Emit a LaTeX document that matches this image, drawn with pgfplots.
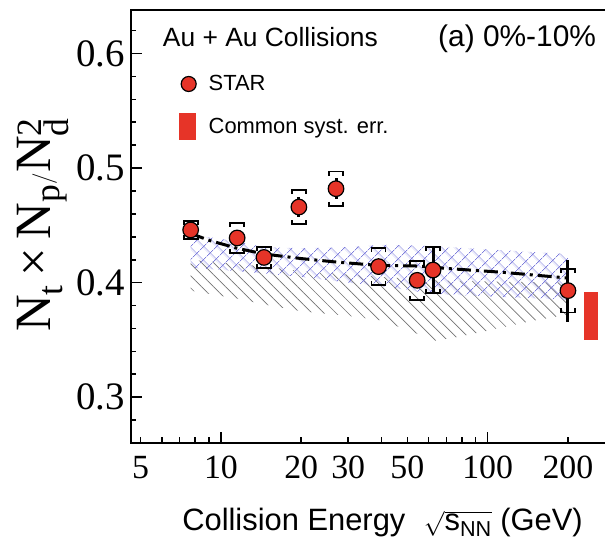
\documentclass[border=0pt]{standalone}
\usepackage{fontspec}
\setmainfont{Liberation Sans}
\newfontfamily\serif{Liberation Serif}
\setmathrm{Liberation Serif}
\usepackage{pgfplots}
\pgfplotsset{compat=1.18}
\usepackage{pgfplotstable}
\usetikzlibrary{patterns.meta}

\definecolor{starred}{RGB}{230,52,40}
\definecolor{hatchblue}{RGB}{125,125,220}
\definecolor{hatchgrey}{RGB}{115,115,115}

% bracket cap for systematic uncertainties (legs point back to the data point)
\pgfdeclareplotmark{sysbracket}{%
  \pgfpathmoveto{\pgfqpoint{-4bp}{-7bp}}%
  \pgfpathlineto{\pgfqpoint{0bp}{-7bp}}%
  \pgfpathlineto{\pgfqpoint{0bp}{7bp}}%
  \pgfpathlineto{\pgfqpoint{-4bp}{7bp}}%
  \pgfpathmoveto{\pgfqpoint{4bp}{0bp}}%
}

% STAR 0-10% central Au+Au: value, statistical and systematic errors
\pgfplotstableread{
x     y      stat   sys
7.7   0.446  0.004  0.008
11.5  0.439  0.006  0.013
14.5  0.422  0.004  0.009
19.6  0.466  0.009  0.015
27    0.482  0.009  0.015
39    0.414  0.006  0.016
54.4  0.402  0.004  0.017
62.4  0.411  0.019  0.020
200   0.393  0.027  0.019
}\stardata

\begin{document}
\begin{tikzpicture}
\begin{axis}[
  scale only axis, width=480bp, height=433bp,
  xmode=log, xmin=4.6, xmax=290, ymin=0.26, ymax=0.638,
  axis line style={line width=2bp},
  tick align=inside, xtick pos=bottom, ytick pos=left,
  tick style={line width=1.6bp, black},
  major tick length=11bp, minor tick length=5.5bp,
  xtick={10,100}, xticklabels={10,100},
  extra x ticks={5,20,30,50,200}, extra x tick labels={5,20,30,50,200},
  extra x tick style={major tick length=5.5bp},
  minor xtick={6,7,8,9,40,60,70,80,90},
  ytick={0.3,0.4,0.5,0.6},
  minor ytick={0.28,0.32,0.34,0.36,0.38,0.42,0.44,0.46,0.48,0.52,0.54,0.56,0.58,0.62},
  /pgf/number format/assume math mode=true,
  xticklabel style={font=\serif\fontsize{34}{34}\selectfont, inner sep=0pt, yshift=-13bp},
  yticklabel style={font=\serif\fontsize{39}{39}\selectfont, inner sep=0pt, xshift=-6bp},
  ylabel={$\mathrm{N_{t}\mbox{\serif\,×\,}N_{p}/N_{d}^{2}}$},
  ylabel style={at={(axis description cs:-0.183,0.5035)}, anchor=center, font=\fontsize{51}{55}\selectfont, inner sep=0pt},
  xlabel={Collision Energy\hspace{0.6em}$\sqrt{\mbox{s\textsubscript{NN}}}$ (GeV)},
  xlabel style={at={(axis description cs:0.524,0)}, anchor=base, yshift=-87bp, font=\fontsize{31}{34}\selectfont, inner sep=0pt},
  legend style={draw=none, fill=none, at={(axis description cs:0.1006,0.8499)}, anchor=north west,
    font=\fontsize{22}{26}\selectfont, row sep=21bp, column sep=11.9bp, inner sep=0pt,
    cells={anchor=base west}, nodes={inner sep=0pt}},
]
\addlegendimage{legend image code/.code={\draw[fill=starred,draw=black,line width=1.2bp] (9bp,6.5bp) circle[radius=7.5bp];}}
\addlegendentry{STAR}
\addlegendimage{legend image code/.code={\fill[starred] (0bp,-5.7bp) rectangle (15.5bp,20.6bp);}}
\addlegendentry{Common syst. err.}

% model band, grey single hatch
\addplot[forget plot, draw=none, pattern={Lines[angle=-45,distance=8.5bp,line width=0.65bp]}, pattern color=hatchgrey]
  coordinates {(7.7,0.420) (14.5,0.414) (20,0.410) (40,0.405) (62.4,0.402) (100,0.401) (200,0.400)
               (200,0.372) (150,0.367) (100,0.358) (75,0.352) (62.4,0.349) (55,0.355) (40,0.367)
               (30,0.371) (20,0.375) (14.5,0.381) (11.5,0.386) (7.7,0.393)} -- cycle;
% model band, blue cross hatch
\addplot[forget plot, draw=none, pattern={Hatch[angle=45,distance=9.5bp,line width=0.75bp]}, pattern color=hatchblue]
  coordinates {(7.7,0.442) (11.5,0.436) (14.5,0.431) (20,0.430) (30,0.431) (40,0.433) (62.4,0.432)
               (100,0.429) (200,0.425)
               (200,0.385) (100,0.388) (62.4,0.390) (40,0.397) (30,0.400) (20,0.405) (14.5,0.408)
               (11.5,0.410) (7.7,0.413)} -- cycle;
% model curve
\addplot[forget plot, black, line width=3bp, dash pattern=on 14bp off 5bp on 3bp off 5bp]
  coordinates {(7.7,0.443) (9,0.437) (11.5,0.430) (14.5,0.425) (20,0.421) (27,0.418) (39,0.415)
               (54.4,0.4145) (74,0.412) (114,0.409) (200,0.404)};

% systematic brackets
\addplot[forget plot, only marks, mark=none,
  error bars/.cd, y dir=both, y explicit, error mark=sysbracket,
  error mark options={solid, line width=1.8bp, black},
  error bar style={line width=1.8bp, black, dash pattern=on 0bp off 1000bp}]
  table[x=x, y=y, y error=sys] {\stardata};
% statistical bars
\addplot[forget plot, only marks, mark=none,
  error bars/.cd, y dir=both, y explicit, error mark=none,
  error bar style={line width=3bp, black}]
  table[x=x, y=y, y error=stat] {\stardata};
% data points
\addplot[forget plot, only marks, mark=*, mark size=7.8bp,
  mark options={fill=starred, draw=black, line width=1.2bp}]
  table[x=x, y=y] {\stardata};

% common systematic uncertainty
\addplot[forget plot, fill=starred, draw=none]
  coordinates {(230,0.350) (259,0.350) (259,0.392) (230,0.392)} -- cycle;
\end{axis}
\node[anchor=base west, inner sep=0pt, font=\fontsize{26.5}{30}\selectfont] at (31.7bp,396.3bp) {Au + Au Collisions};
\node[anchor=base west, inner sep=0pt, font=\fontsize{30}{34}\selectfont] at (307bp,396.3bp) {(a) 0\%-10\%};
\pgfresetboundingbox
\useasboundingbox (-131bp,-99bp) rectangle (474bp,443bp);
\end{tikzpicture}
\end{document}
